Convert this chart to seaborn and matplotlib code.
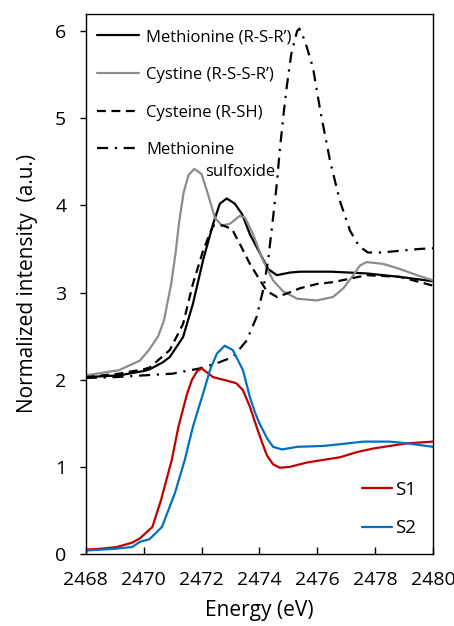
import matplotlib
matplotlib.use("Agg")
import matplotlib.pyplot as plt
import seaborn as sns

# ---- data ----
met_E = [2468, 2469.15, 2470.0, 2470.21, 2470.66, 2470.9, 2471.36, 2471.7, 2472.05,
         2472.4, 2472.63, 2472.87, 2473.15, 2473.4, 2473.67, 2474.02, 2474.3,
         2474.6, 2475.05, 2475.4, 2476.5, 2477.7, 2478.86, 2480]
met_I = [2.03, 2.05, 2.10, 2.12, 2.20, 2.26, 2.49, 2.87, 3.37,
         3.79, 4.02, 4.08, 4.02, 3.90, 3.67, 3.45, 3.27,
         3.20, 3.23, 3.24, 3.24, 3.22, 3.18, 3.13]

cys2_E = [2468, 2469.15, 2469.87, 2470.2, 2470.5, 2470.7, 2470.95, 2471.1, 2471.22,
          2471.38, 2471.55, 2471.75, 2472.0, 2472.22, 2472.46, 2472.7, 2472.98,
          2473.32, 2473.5, 2473.78, 2474.12, 2474.47, 2474.8, 2475.3, 2475.98,
          2476.54, 2476.9, 2477.24, 2477.47, 2477.7, 2478.27, 2478.86, 2479.44, 2480]
cys2_I = [2.05, 2.11, 2.22, 2.35, 2.50, 2.68, 3.10, 3.45, 3.80,
          4.15, 4.35, 4.42, 4.36, 4.13, 3.86, 3.77, 3.79,
          3.88, 3.86, 3.67, 3.37, 3.14, 3.02, 2.93, 2.91,
          2.95, 3.05, 3.20, 3.31, 3.35, 3.33, 3.27, 3.20, 3.14]

cys_E = [2468, 2469.15, 2470.0, 2470.21, 2470.9, 2471.36, 2471.7, 2472.05, 2472.4,
         2472.74, 2473.05, 2473.32, 2473.67, 2474.02, 2474.25, 2474.6, 2474.95,
         2475.4, 2476.0, 2476.54, 2477.13, 2477.7, 2478.86, 2480]
cys_I = [2.03, 2.07, 2.12, 2.14, 2.34, 2.64, 3.10, 3.48, 3.77,
         3.77, 3.73, 3.56, 3.33, 3.14, 3.02, 2.95, 2.99,
         3.05, 3.10, 3.12, 3.16, 3.20, 3.18, 3.08]

mso_E = [2468, 2469, 2470, 2471, 2471.94, 2472.53, 2473.08, 2473.56, 2473.9,
         2474.12, 2474.3, 2474.47, 2474.6, 2474.7, 2474.85, 2474.95, 2475.1, 2475.3,
         2475.38, 2475.57, 2475.85, 2476.1, 2476.44, 2476.78, 2477.13, 2477.45,
         2477.75, 2478.2, 2478.86, 2479.5, 2480]
mso_I = [2.02, 2.03, 2.05, 2.07, 2.13, 2.19, 2.26, 2.45, 2.72,
         3.02, 3.37, 3.86, 4.25, 4.63, 5.10, 5.38, 5.74, 6.00,
         6.03, 5.89, 5.58, 5.09, 4.51, 4.05, 3.71, 3.53,
         3.46, 3.46, 3.48, 3.50, 3.51]

s1_E = [2468, 2468.5, 2469.07, 2469.6, 2469.87, 2470.3, 2470.6, 2470.97, 2471.2,
        2471.5, 2471.67, 2471.85, 2472.0, 2472.4, 2472.87, 2473.2, 2473.43, 2473.67,
        2473.9, 2474.1, 2474.26, 2474.47, 2474.7, 2475.05, 2475.64, 2476.2, 2476.78,
        2477.37, 2477.92, 2478.5, 2479.1, 2480]
s1_I = [0.05, 0.06, 0.08, 0.13, 0.18, 0.31, 0.62, 1.08, 1.46,
        1.84, 2.00, 2.10, 2.13, 2.03, 1.99, 1.96, 1.88, 1.69,
        1.46, 1.27, 1.13, 1.03, 0.99, 1.00, 1.05, 1.08, 1.11,
        1.17, 1.21, 1.24, 1.27, 1.29]

s2_E = [2468, 2469.0, 2469.6, 2469.87, 2470.2, 2470.63, 2471.08, 2471.42, 2471.7,
        2472.05, 2472.3, 2472.53, 2472.8, 2473.08, 2473.43, 2473.67, 2473.85,
        2474.0, 2474.26, 2474.47, 2474.78, 2475.3, 2476.2, 2476.78, 2477.6, 2478.5,
        2479.1, 2480]
s2_I = [0.04, 0.06, 0.08, 0.14, 0.17, 0.31, 0.70, 1.08, 1.46,
        1.84, 2.12, 2.30, 2.39, 2.34, 2.11, 1.80, 1.62,
        1.50, 1.33, 1.23, 1.20, 1.23, 1.24, 1.26, 1.29, 1.29,
        1.27, 1.23]

x_ticks = [2468, 2470, 2472, 2474, 2476, 2478, 2480]
y_ticks = [0, 1, 2, 3, 4, 5, 6]

# ---- styling ----
sns.set_theme(style="white")
plt.rcParams['font.family'] = ['Open Sans', 'DejaVu Sans']
plt.rcParams['text.color'] = 'black'
plt.rcParams['axes.labelcolor'] = 'black'
plt.rcParams['xtick.color'] = 'black'
plt.rcParams['ytick.color'] = 'black'

fig = plt.figure(figsize=(4.54, 6.26), dpi=100)
ax = fig.add_axes([0.189, 0.115, 0.765, 0.863])

lw = 1.6
sns.lineplot(x=met_E, y=met_I, ax=ax, color="black", lw=lw, sort=False)
sns.lineplot(x=cys2_E, y=cys2_I, ax=ax, color="#8c8c8c", lw=lw, sort=False)
sns.lineplot(x=cys_E, y=cys_I, ax=ax, color="black", lw=lw, sort=False)
ax.lines[-1].set_dashes((4, 2.5))
sns.lineplot(x=mso_E, y=mso_I, ax=ax, color="black", lw=lw, sort=False)
ax.lines[-1].set_dashes((5, 3, 1, 3))
sns.lineplot(x=s1_E, y=s1_I, ax=ax, color="#C00000", lw=lw, sort=False)
sns.lineplot(x=s2_E, y=s2_I, ax=ax, color="#0070C0", lw=lw, sort=False)

ax.set_xlim(2468, 2480)
ax.set_ylim(0, 6.2)
ax.set_xticks(x_ticks)
ax.set_xticklabels([str(t) for t in x_ticks])
ax.set_yticks(y_ticks)
ax.set_yticklabels([str(t) for t in y_ticks])
ax.tick_params(axis='x', direction='in', length=5, width=1,
               labelsize=14, pad=12)
ax.tick_params(axis='y', direction='out', length=4, width=1,
               labelsize=14, pad=10)
ax.tick_params(bottom=True, left=True)
for s in ax.spines.values():
    s.set_color("black")
    s.set_linewidth(1.0)

ax.set_xlabel("Energy (eV)", fontsize=15, labelpad=8)
ax.set_ylabel("Normalized intensity  (a.u.)", fontsize=15, labelpad=12)

# legends
l1 = ax.lines
h_top = [l1[0], l1[1], l1[2], l1[3]]
lab_top = ["Methionine (R-S-R\u2019)", "Cystine (R-S-S-R\u2019)",
           "Cysteine (R-SH)", "Methionine"]
leg1 = ax.legend(h_top, lab_top, loc="upper left", frameon=False,
                 fontsize=12, handlelength=2.5, handletextpad=0.42,
                 labelspacing=1.3, borderaxespad=0.3,
                 bbox_to_anchor=(0.0, 0.993))
ax.add_artist(leg1)
ax.text(0.343, 0.708, "sulfoxide", transform=ax.transAxes, fontsize=12,
        va="center", ha="left")

leg2 = ax.legend([l1[4], l1[5]], ["S1", "S2"], loc="lower right",
                 frameon=False, fontsize=13.5, handlelength=1.6,
                 handletextpad=0.15, labelspacing=1.1,
                 bbox_to_anchor=(1.0, 0.0))

fig.savefig("out.png", dpi=100)
